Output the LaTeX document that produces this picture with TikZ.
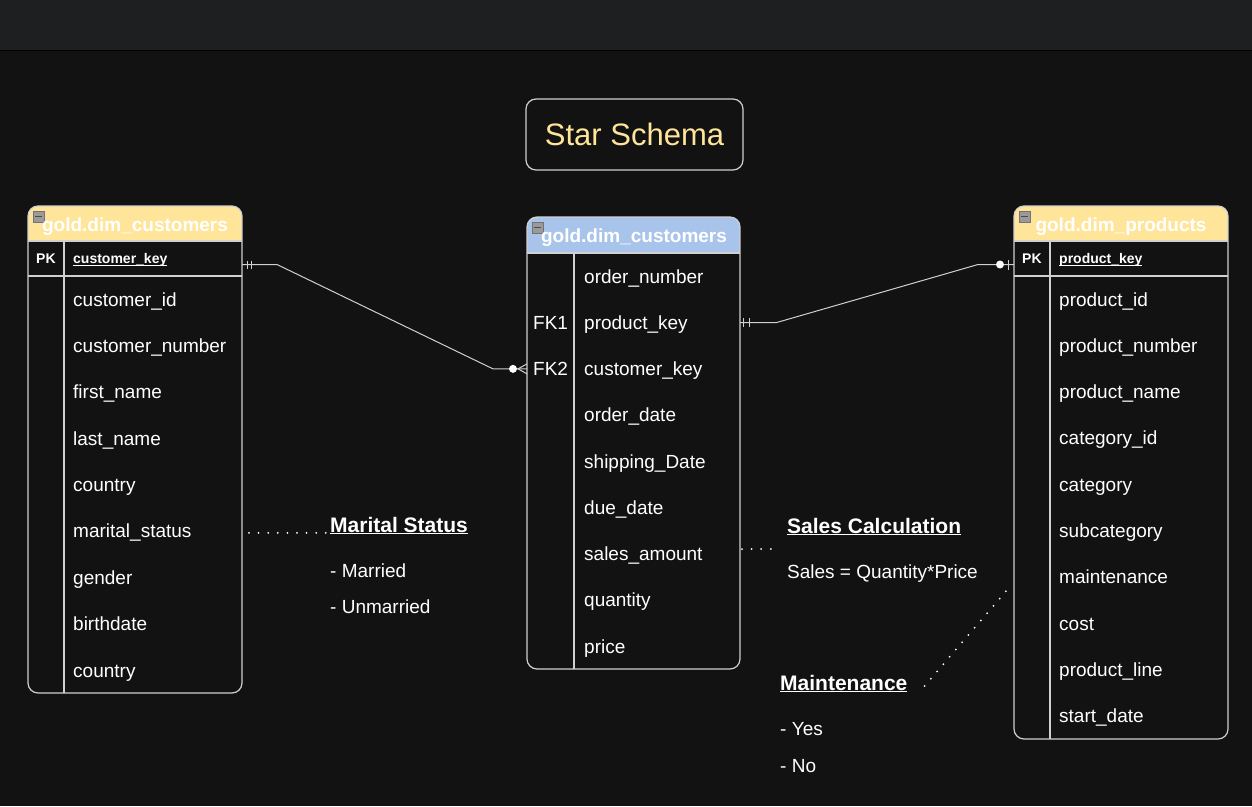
\documentclass[tikz,border=0pt]{standalone}
\usepackage{fontspec}
\setmainfont{Liberation Sans}
\definecolor{canvas}{HTML}{121212}
\definecolor{topbar}{HTML}{1E1F21}
\definecolor{edge}{HTML}{D0D0D0}
\definecolor{hdryellow}{HTML}{FFE599}
\definecolor{hdrblue}{HTML}{A9C4EB}
\definecolor{iconfill}{HTML}{9A9A9A}
\tikzset{
  tableframe/.style={inner sep=0pt,outer sep=0pt,anchor=north west},
  tablebox/.style={draw=edge,line width=1.2pt,rounded corners=10pt},
  rule/.style={draw=edge,line width=1.2pt},
  icon/.style={fill=iconfill,draw=black!55,line width=0.6pt},
  titlebox/.style={draw=edge,line width=1.2pt,rounded corners=10pt,minimum width=217pt,
    minimum height=71pt,inner sep=0pt,text=hdryellow,font=\fontsize{31}{37}\selectfont},
  tabletitle/.style={anchor=base,inner sep=0pt,text=white,font=\bfseries\fontsize{19}{23}\selectfont},
  field/.style={anchor=base west,inner sep=0pt,text=white,font=\fontsize{19}{23}\selectfont},
  keyfield/.style={field,font=\bfseries\fontsize{14}{17}\selectfont},
  note/.style={field,font=\bfseries\fontsize{21}{25}\selectfont},
  rel/.style={draw=edge,line width=1pt},
  notelink/.style={white,line width=2pt,line cap=round,dash pattern=on 0pt off 9.6pt},
}
\begin{document}
\begin{tikzpicture}[x=1pt,y=-1pt]
\useasboundingbox (0,0) rectangle (1252,806);
\fill[canvas] (0,0) rectangle (1252,806);
\fill[topbar] (0,0) rectangle (1252,50);
\draw[black,line width=1.5pt] (0,50.5) -- (1252,50.5);

% title
\node[titlebox] (title) at (634.5,134.5) {Star Schema};

% the three tables
\foreach \tbl/\x/\y/\w/\h/\hh/\hc/\dv in {cust/28/206/214pt/487pt/35pt/hdryellow/36pt,
    fact/527/217/213pt/452pt/36pt/hdrblue/47pt, prod/1014/206/214pt/533pt/35pt/hdryellow/36pt}{
  \node[tableframe,minimum width=\w,minimum height=\h] (\tbl) at (\x,\y) {};
  \begin{scope}
    \clip[rounded corners=10pt] (\tbl.north west) rectangle (\tbl.south east);
    \fill[\hc] (\tbl.north west) rectangle ([yshift=-\hh]\tbl.north east);
  \end{scope}
  \draw[rule] ([yshift=-\hh]\tbl.north west) -- ([yshift=-\hh]\tbl.north east);
  \draw[rule] ([shift={(\dv,-\hh)}]\tbl.north west) -- ([xshift=\dv]\tbl.south west);
  \draw[tablebox] (\tbl.north west) rectangle (\tbl.south east);
  \draw[icon] ([shift={(5pt,-5pt)}]\tbl.north west) rectangle ++(11pt,-11pt);
  \draw[black!70,line width=1.6pt] ([shift={(7pt,-10.5pt)}]\tbl.north west) -- ++(7pt,0pt);
}
\draw[rule] ([yshift=-70pt]cust.north west) -- ([yshift=-70pt]cust.north east);
\draw[rule] ([yshift=-70pt]prod.north west) -- ([yshift=-70pt]prod.north east);

\node[tabletitle] (cust-title) at (135,231) {gold.dim\_customers};
\node[tabletitle] (fact-title) at (634,242) {gold.dim\_customers};
\node[tabletitle] (prod-title) at (1121,231) {gold.dim\_products};

% keys
\node[keyfield] (cust-pk) at (36,263.5) {PK};
\node[keyfield] (cust-key) at (73,263.5) {\underline{\smash{customer\_key}}};
\node[keyfield] (prod-pk) at (1022,263.5) {PK};
\node[keyfield] (prod-key) at (1059,263.5) {\underline{\smash{product\_key}}};
\node[field] (fk1) at (533,329.25) {FK1};
\node[field] (fk2) at (533,375.5) {FK2};

% columns
\foreach \t [count=\i from 0] in {customer\_id,customer\_number,first\_name,last\_name,
    country,marital\_status,gender,birthdate,country}
  \node[field] (cust-\i) at (73,{306+46.375*\i}) {\t};
\foreach \t [count=\i from 0] in {order\_number,product\_key,customer\_key,order\_date,
    shipping\_Date,due\_date,sales\_amount,quantity,price}
  \node[field] (fact-\i) at (584,{283+46.25*\i}) {\t};
\foreach \t [count=\i from 0] in {product\_id,product\_number,product\_name,category\_id,
    category,subcategory,maintenance,cost,product\_line,start\_date}
  \node[field] (prod-\i) at (1059,{306+46.33*\i}) {\t};

% relationships
\coordinate (r1a) at (cust.east |- cust-key);
\coordinate (r1b) at (fact.west |- fk2);
\draw[rel] (r1a) -- ++(35,0) -- ([xshift=-34pt]r1b) -- (r1b);
\foreach \dx in {5pt,9pt}
  \draw[rel] ([shift={(\dx,4pt)}]r1a) -- ([shift={(\dx,-4pt)}]r1a);
\draw[rel] ([yshift=5pt]r1b) -- ([xshift=-9pt]r1b) -- ([yshift=-5pt]r1b);
\fill[white] ([xshift=-14pt]r1b) circle (4pt);

\coordinate (r2a) at (fact.east |- fk1);
\coordinate (r2b) at (prod.west |- prod-key);
\draw[rel] (r2a) -- ++(36,0) -- ([xshift=-36pt]r2b) -- (r2b);
\foreach \dx in {3.5pt,9pt}
  \draw[rel] ([shift={(\dx,4.5pt)}]r2a) -- ([shift={(\dx,-4.5pt)}]r2a);
\fill[white] ([xshift=-14pt]r2b) circle (4pt);
\draw[rel] ([shift={(-5.5pt,5pt)}]r2b) -- ([shift={(-5.5pt,-5pt)}]r2b);

% notes
\node[note] (ms-title) at (330,532) {\underline{Marital Status}};
\node[field] (ms-yes) at (330,577) {- Married};
\node[field] (ms-no) at (330,613) {- Unmarried};
\node[note] (sc-title) at (787,533) {\underline{Sales Calculation}};
\node[field] (sc-rule) at (787,578) {Sales = Quantity*Price};
\node[note] (mt-title) at (780,690) {\underline{Maintenance}};
\node[field] (mt-yes) at (780,735) {- Yes};
\node[field] (mt-no) at (780,772) {- No};

\coordinate (ms) at (cust.east |- cust-5);
\coordinate (ms-end) at (ms-title.west |- cust-5);
\draw[notelink] ([xshift=7pt]ms) -- ([xshift=-3pt]ms-end);
\coordinate (sa) at (fact.east |- fact-6);
\coordinate (sa-end) at (sc-title.west |- fact-6);
\draw[notelink] ([shift={(2pt,6.5pt)}]sa) -- ([shift={(-7pt,6.5pt)}]sa-end);
\coordinate (mt) at (prod.west |- prod-6);
\draw[notelink] ([shift={(17pt,-2.5pt)}]mt-title.east) -- ([shift={(-2pt,-7pt)}]mt);
\end{tikzpicture}
\end{document}
